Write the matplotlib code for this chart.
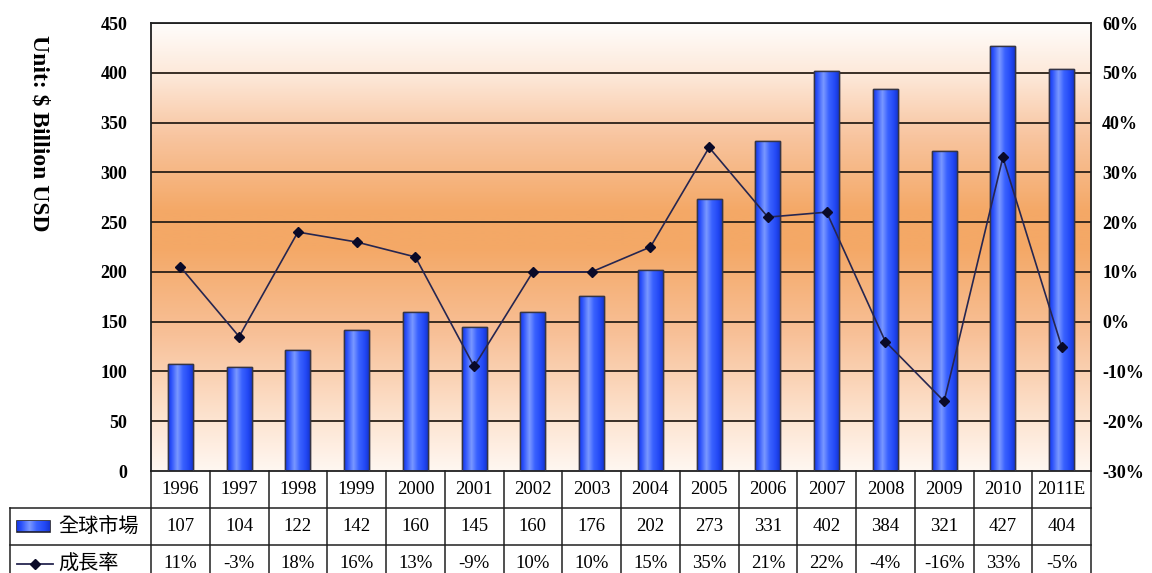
import numpy as np
import matplotlib
matplotlib.use("Agg")
import matplotlib.pyplot as plt
from matplotlib.colors import LinearSegmentedColormap
from matplotlib.patches import Rectangle
from matplotlib.lines import Line2D
import matplotlib.transforms as mtransforms

years = ["1996", "1997", "1998", "1999", "2000", "2001", "2002", "2003",
         "2004", "2005", "2006", "2007", "2008", "2009", "2010", "2011E"]
market = [107, 104, 122, 142, 160, 145, 160, 176, 202, 273, 331, 402, 384, 321, 427, 404]
growth = [11, -3, 18, 16, 13, -9, 10, 10, 15, 35, 21, 22, -4, -16, 33, -5]
growth_labels = [f"{g}%" for g in growth]
bar_label = "全球市場"
line_label = "成長率"
y_label = "Unit: $ Billion USD"
left_ticks = list(range(0, 451, 50))
right_ticks = list(range(-30, 61, 10))

serif = ["Liberation Serif", "DejaVu Serif"]
cjk = ["Noto Sans CJK TC", "DejaVu Sans"]

W, H = 1152, 573
fig = plt.figure(figsize=(W / 100, H / 100), dpi=100)
L, R, T, B = 151, 1091, 23, 471
ax = fig.add_axes([L / W, (H - B) / H, (R - L) / W, (B - T) / H])
n = len(years)
x = np.arange(n)
ax.set_xlim(-0.5, n - 0.5)
ax.set_ylim(0, 450)

# background gradient
bg = LinearSegmentedColormap.from_list("bg", [
    (0.0, "#fff7f1"), (0.12, "#fde3cf"), (0.30, "#f8c199"), (0.50, "#f4a866"),
    (0.58, "#f4a866"), (0.75, "#f8c5a0"), (0.88, "#fde7d7"), (1.0, "#fffdfb")])
grad = np.linspace(0, 1, 256).reshape(-1, 1)
ax.imshow(grad, cmap=bg, origin="lower", aspect="auto",
          extent=(-0.5, n - 0.5, 0, 450), zorder=0)

# gridlines
for t in left_ticks[1:]:
    ax.axhline(t, color="#2a2018", lw=1.3, zorder=1)

# bars with cylinder gradient
bar_cmap = LinearSegmentedColormap.from_list("bar", [
    (0.0, "#1838e0"), (0.12, "#2a50fa"), (0.38, "#7a98ff"), (0.6, "#3a62ff"),
    (0.85, "#2248f5"), (1.0, "#1636d0")])
bw = 0.425
bars = ax.bar(x, market, width=bw, color="#2a50fa", edgecolor="#303040",
              linewidth=1.0, zorder=2)
hgrad = np.linspace(0, 1, 64).reshape(1, -1)
for b in bars:
    im = ax.imshow(hgrad, cmap=bar_cmap, aspect="auto",
                   extent=(b.get_x(), b.get_x() + b.get_width(), 0, b.get_height()),
                   zorder=2.5)
    im.set_clip_path(b)
    ax.add_patch(Rectangle((b.get_x(), 0), b.get_width(), b.get_height(),
                           fill=False, edgecolor="#353545", lw=1.0, zorder=3))
ax.set_xlim(-0.5, n - 0.5)
ax.set_ylim(0, 450)

ax.set_xticks([])
ax.set_yticks(left_ticks)
ax.set_yticklabels([str(t) for t in left_ticks], fontfamily=serif,
                   fontweight="bold", fontsize=13)
ax.tick_params(axis="y", length=0, pad=17)
for s in ax.spines.values():
    s.set_color("#202020")
    s.set_linewidth(1.3)

ax.text(-0.119, 0.755, y_label, transform=ax.transAxes, rotation=270,
        ha="center", va="center", fontfamily=serif, fontweight="bold", fontsize=17)

# line on twin axis
ax2 = ax.twinx()
ax2.set_ylim(-30, 60)
ax2.plot(x, growth, color="#262650", lw=1.2, marker="D", markersize=5,
         markerfacecolor="#0a0a28", markeredgecolor="#0a0a28", zorder=5)
ax2.set_yticks(right_ticks)
ax2.set_yticklabels([f"{t}%" for t in right_ticks], fontfamily=serif,
                    fontweight="bold", fontsize=13)
ax2.tick_params(axis="y", length=0, pad=8)
for s in ax2.spines.values():
    s.set_visible(False)

# data table
ph = B - T
rh = 37 / ph
blend = mtransforms.blended_transform_factory(ax.transData, ax.transAxes)
lc = "#202020"
lw = 1.1
left_ax = (10 - L) / (R - L)
for k in (1, 2, 3):
    ax.add_line(Line2D([left_ax, 1], [-k * rh, -k * rh], transform=ax.transAxes,
                       color=lc, lw=lw, clip_on=False))
for i in range(n + 1):
    ax.add_line(Line2D([i - 0.5, i - 0.5], [0, -3 * rh], transform=blend,
                       color=lc, lw=lw, clip_on=False))
ax.add_line(Line2D([left_ax, left_ax], [-rh, -3 * rh], transform=ax.transAxes,
                   color=lc, lw=lw, clip_on=False))

rows = [years, [str(v) for v in market], growth_labels]
for r, vals in enumerate(rows):
    yc = -(r + 0.5) * rh
    for i, v in enumerate(vals):
        ax.text(i, yc, v, transform=blend, ha="center", va="center",
                fontfamily=serif, fontsize=13.5, clip_on=False)

# row labels with legend keys
px = 1.0 / (R - L)
py = 1.0 / ph
y2 = -1.5 * rh
kx0 = left_ax + 7 * px
icon = Rectangle((kx0, y2 - 5 * py), 33 * px, 11 * py, transform=ax.transAxes,
                 facecolor="#3d5ef5", edgecolor="#202030", lw=1.2, clip_on=False)
ax.add_patch(icon)
ig = ax.imshow(np.linspace(0, 1, 64).reshape(1, -1), cmap=bar_cmap, aspect="auto",
               extent=(kx0, kx0 + 33 * px, y2 - 5 * py, y2 + 6 * py),
               transform=ax.transAxes, zorder=3, clip_on=True)
ig.set_clip_path(icon)
ax.text(kx0 + 41 * px, y2, bar_label, transform=ax.transAxes, ha="left",
        va="center", fontfamily=cjk, fontsize=14.5, clip_on=False)
y3 = -2.5 * rh
ax.add_line(Line2D([kx0, kx0 + 36 * px], [y3, y3], transform=ax.transAxes,
                   color="#262650", lw=1.3, clip_on=False))
ax.add_line(Line2D([kx0 + 18 * px], [y3], transform=ax.transAxes, marker="D",
                   markersize=5, color="#0a0a28", lw=0, clip_on=False))
ax.text(kx0 + 41 * px, y3, line_label, transform=ax.transAxes, ha="left",
        va="center", fontfamily=cjk, fontsize=14.5, clip_on=False)

ax.set_xlim(-0.5, n - 0.5)
ax.set_ylim(0, 450)
fig.savefig("out.png", dpi=100)
